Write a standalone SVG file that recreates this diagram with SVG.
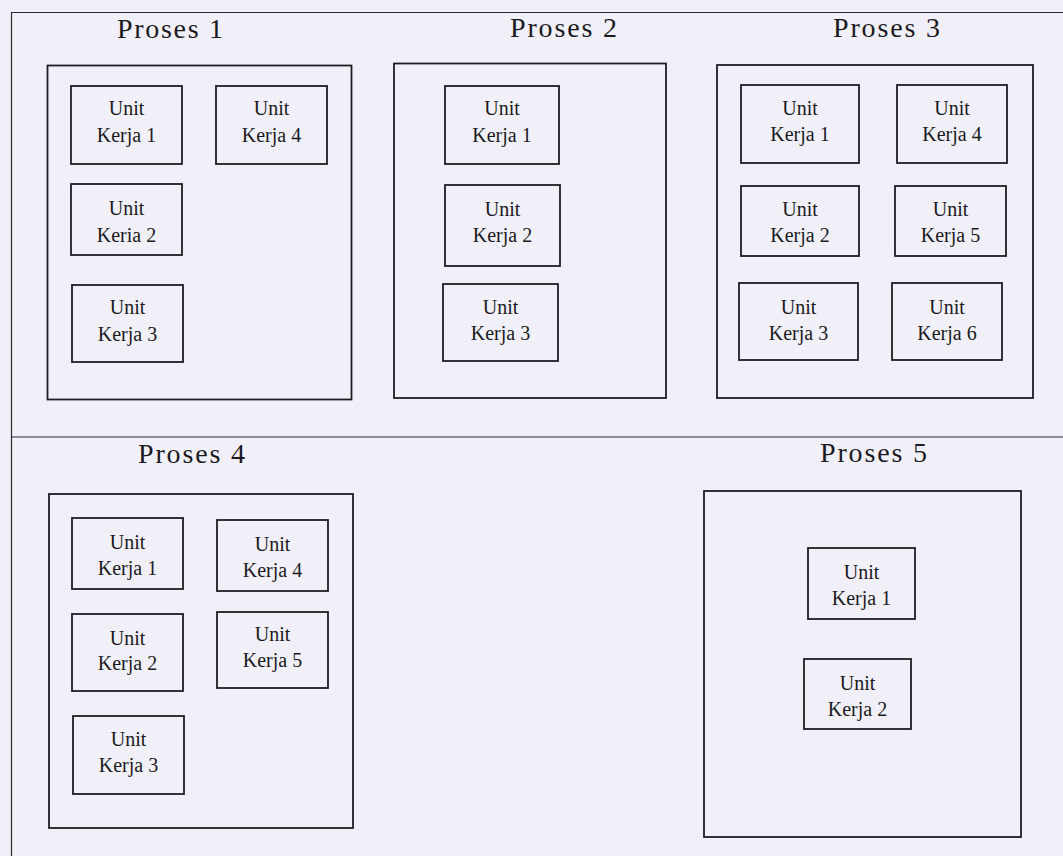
<svg xmlns="http://www.w3.org/2000/svg" width="1063" height="856" viewBox="0 0 1063 856">
<style>
.bg{fill:#f1f0f8}
.frame{fill:none;stroke:#2a2a2e;stroke-width:1.2}
.proc{fill:none;stroke:#1e1e22;stroke-width:1.8}
.unit{fill:none;stroke:#1e1e22;stroke-width:1.8}
.title{font-family:"Liberation Serif","Times New Roman",serif;font-size:28px;fill:#1a1a1e}
.lbl{font-family:"Liberation Serif","Times New Roman",serif;font-size:20px;fill:#1a1a1e;text-anchor:middle}
</style>
<rect class="bg" x="0" y="0" width="1063" height="856"/>
<g id="frame">
<path class="frame" d="M1063 12.5H11.5V856M11.5 437H1063"/>
</g>
<g id="connectors"/>

<g id="proses1">
<text class="title" x="117" y="38" textLength="106" lengthAdjust="spacing">Proses 1</text>
<rect class="proc" x="47.5" y="65.5" width="304" height="334"/>
<g id="p1-k1"><rect class="unit" x="71" y="86" width="111" height="78"/><text class="lbl" x="126.5" y="115">Unit</text><text class="lbl" x="126.5" y="142">Kerja 1</text></g>
<g id="p1-k4"><rect class="unit" x="216" y="86" width="111" height="78"/><text class="lbl" x="271.5" y="115">Unit</text><text class="lbl" x="271.5" y="142">Kerja 4</text></g>
<g id="p1-k2"><rect class="unit" x="71" y="184" width="111" height="71"/><text class="lbl" x="126.5" y="215">Unit</text><text class="lbl" x="126.5" y="242">Keria 2</text></g>
<g id="p1-k3"><rect class="unit" x="72" y="285" width="111" height="77"/><text class="lbl" x="127.5" y="314">Unit</text><text class="lbl" x="127.5" y="341">Kerja 3</text></g>
</g>

<g id="proses2">
<text class="title" x="510" y="37" textLength="107" lengthAdjust="spacing">Proses 2</text>
<rect class="proc" x="394" y="63.5" width="272" height="334.5"/>
<g id="p2-k1"><rect class="unit" x="445" y="86" width="114" height="78"/><text class="lbl" x="502" y="115">Unit</text><text class="lbl" x="502" y="142">Kerja 1</text></g>
<g id="p2-k2"><rect class="unit" x="445" y="185" width="115" height="81"/><text class="lbl" x="502.5" y="216">Unit</text><text class="lbl" x="502.5" y="242">Kerja 2</text></g>
<g id="p2-k3"><rect class="unit" x="443" y="284" width="115" height="77"/><text class="lbl" x="500.5" y="314">Unit</text><text class="lbl" x="500.5" y="340">Kerja 3</text></g>
</g>

<g id="proses3">
<text class="title" x="833" y="37" textLength="107" lengthAdjust="spacing">Proses 3</text>
<rect class="proc" x="717" y="65" width="316" height="333"/>
<g id="p3-k1"><rect class="unit" x="741" y="85" width="118" height="78"/><text class="lbl" x="800" y="115">Unit</text><text class="lbl" x="800" y="141">Kerja 1</text></g>
<g id="p3-k4"><rect class="unit" x="897" y="85" width="110" height="78"/><text class="lbl" x="952" y="115">Unit</text><text class="lbl" x="952" y="141">Kerja 4</text></g>
<g id="p3-k2"><rect class="unit" x="741" y="186" width="118" height="70"/><text class="lbl" x="800" y="216">Unit</text><text class="lbl" x="800" y="242">Kerja 2</text></g>
<g id="p3-k5"><rect class="unit" x="895" y="186" width="111" height="70"/><text class="lbl" x="950.5" y="216">Unit</text><text class="lbl" x="950.5" y="242">Kerja 5</text></g>
<g id="p3-k3"><rect class="unit" x="739" y="283" width="119" height="77"/><text class="lbl" x="798.5" y="314">Unit</text><text class="lbl" x="798.5" y="340">Kerja 3</text></g>
<g id="p3-k6"><rect class="unit" x="892" y="283" width="110" height="77"/><text class="lbl" x="947" y="314">Unit</text><text class="lbl" x="947" y="340">Kerja 6</text></g>
</g>

<g id="proses4">
<text class="title" x="138" y="463" textLength="107" lengthAdjust="spacing">Proses 4</text>
<rect class="proc" x="49" y="494" width="304" height="334"/>
<g id="p4-k1"><rect class="unit" x="72" y="518" width="111" height="71"/><text class="lbl" x="127.5" y="549">Unit</text><text class="lbl" x="127.5" y="575">Kerja 1</text></g>
<g id="p4-k4"><rect class="unit" x="217" y="520" width="111" height="71"/><text class="lbl" x="272.5" y="551">Unit</text><text class="lbl" x="272.5" y="577">Kerja 4</text></g>
<g id="p4-k2"><rect class="unit" x="72" y="614" width="111" height="77"/><text class="lbl" x="127.5" y="645">Unit</text><text class="lbl" x="127.5" y="670">Kerja 2</text></g>
<g id="p4-k5"><rect class="unit" x="217" y="612" width="111" height="76"/><text class="lbl" x="272.5" y="641">Unit</text><text class="lbl" x="272.5" y="667">Kerja 5</text></g>
<g id="p4-k3"><rect class="unit" x="73" y="716" width="111" height="78"/><text class="lbl" x="128.5" y="746">Unit</text><text class="lbl" x="128.5" y="772">Kerja 3</text></g>
</g>

<g id="proses5">
<text class="title" x="820" y="462" textLength="107" lengthAdjust="spacing">Proses 5</text>
<rect class="proc" x="704" y="491" width="317" height="346"/>
<g id="p5-k1"><rect class="unit" x="808" y="548" width="107" height="71"/><text class="lbl" x="861.5" y="579">Unit</text><text class="lbl" x="861.5" y="605">Kerja 1</text></g>
<g id="p5-k2"><rect class="unit" x="804" y="659" width="107" height="70"/><text class="lbl" x="857.5" y="690">Unit</text><text class="lbl" x="857.5" y="716">Kerja 2</text></g>
</g>
</svg>
